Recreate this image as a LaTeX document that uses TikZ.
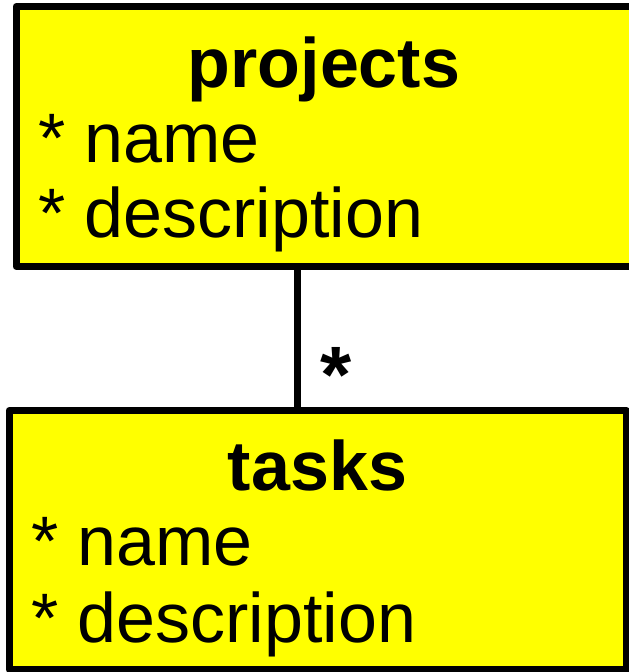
\documentclass[tikz,border=0pt]{standalone}
\usepackage{fontspec}
\setmainfont{Liberation Sans}
\usetikzlibrary{positioning}
\definecolor{boxyellow}{RGB}{255,255,0}
\tikzset{
  entity/.style={draw=black,fill=boxyellow,line width=7pt,line join=round,outer sep=0pt,inner sep=0pt,anchor=north west},
  attr/.style={anchor=base west,inner sep=0pt,font=\fontsize{70}{75}\selectfont},
  etitle/.style={anchor=base,inner sep=0pt,font=\fontsize{70}{75}\selectfont\bfseries},
}
\begin{document}
\begin{tikzpicture}[x=1pt,y=-1pt]
    \useasboundingbox (0,0) rectangle (629,672);
    % projects
    \node[entity,minimum width=616pt,minimum height=260pt] (projects) at (16,6.5) {};
    \node[etitle] (projname) at (324,87) {projects};
    \node[attr] (projattra) at (38,162) {* name};
    \node[attr] (projattrb) at (38,237) {* description};
    % tasks
    \node[entity,minimum width=617pt,minimum height=258.5pt] (tasks) at (9,410.5) {};
    \node[etitle] (taskname) at (317.5,490) {tasks};
    \node[attr] (taskattra) at (31,565) {* name};
    \node[attr] (taskattrb) at (31,642) {* description};
    % link
    \draw[line width=7pt] ([xshift=281pt]projects.south west) -- ([xshift=281pt]projects.south west |- tasks.north) node[at end,anchor=base west,xshift=19.5pt,yshift=8pt,font=\fontsize{80}{80}\selectfont\bfseries,inner sep=0pt] (mult) {*};
\end{tikzpicture}
\end{document}
